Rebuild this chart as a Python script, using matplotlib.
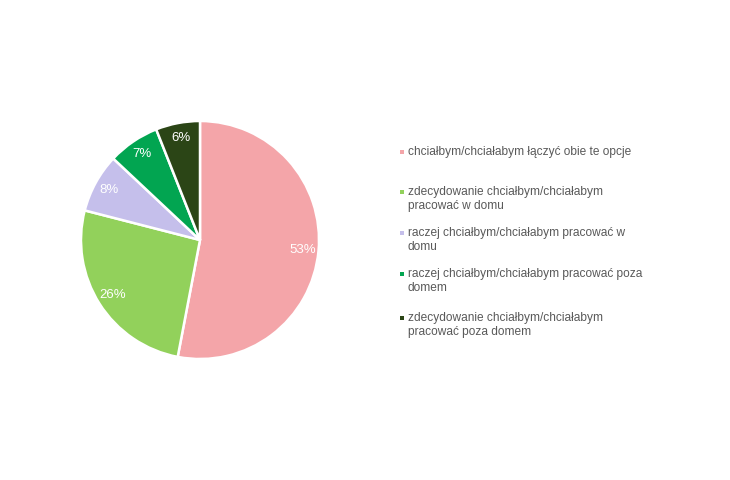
import matplotlib
matplotlib.use("Agg")
import matplotlib.pyplot as plt
from matplotlib.patches import Rectangle

plt.rcParams['font.family'] = ['Liberation Sans', 'DejaVu Sans']

categories = [
    "chciałbym/chciałabym łączyć obie te opcje",
    "zdecydowanie chciałbym/chciałabym\npracować w domu",
    "raczej chciałbym/chciałabym pracować w\ndomu",
    "raczej chciałbym/chciałabym pracować poza\ndomem",
    "zdecydowanie chciałbym/chciałabym\npracować poza domem",
]
values = [53, 26, 8, 7, 6]
colors = ["#F4A5A9", "#92D15B", "#C5BFEB", "#02A551", "#2B4516"]

W, H = 730, 480
fig = plt.figure(figsize=(W / 100, H / 100), dpi=100)
fig.patch.set_facecolor("white")

cx, cy, r = 200, 240, 119
ax = fig.add_axes([(cx - r) / W, (H - cy - r) / H, 2 * r / W, 2 * r / H])
wedges, texts = ax.pie(
    values, colors=colors, startangle=90, counterclock=False,
    labels=[f"{v}%" for v in values], labeldistance=0.87,
    wedgeprops=dict(edgecolor="white", linewidth=1.8),
    textprops=dict(color="white", fontsize=9.5),
)
for t in texts:
    t.set_horizontalalignment("center")
    t.set_verticalalignment("center")
ax.set_xlim(-1, 1)
ax.set_ylim(-1, 1)
ax.set_aspect("equal")
ax.axis("off")

# legend (manual, markers aligned with first line)
first_line_y = [152, 192, 233, 274, 318]
for lab, col, y in zip(categories, colors, first_line_y):
    fig.patches.append(Rectangle((400 / W, (H - y - 2) / H), 4 / W, 4 / H,
                                 transform=fig.transFigure, facecolor=col,
                                 edgecolor="none"))
    fig.text(408 / W, (H - y + 6.5) / H, lab, fontsize=8.6, color="#595959",
             va="top", ha="left", linespacing=1.3,
             transform=fig.transFigure)

fig.savefig("out.png", dpi=100, facecolor="white")
